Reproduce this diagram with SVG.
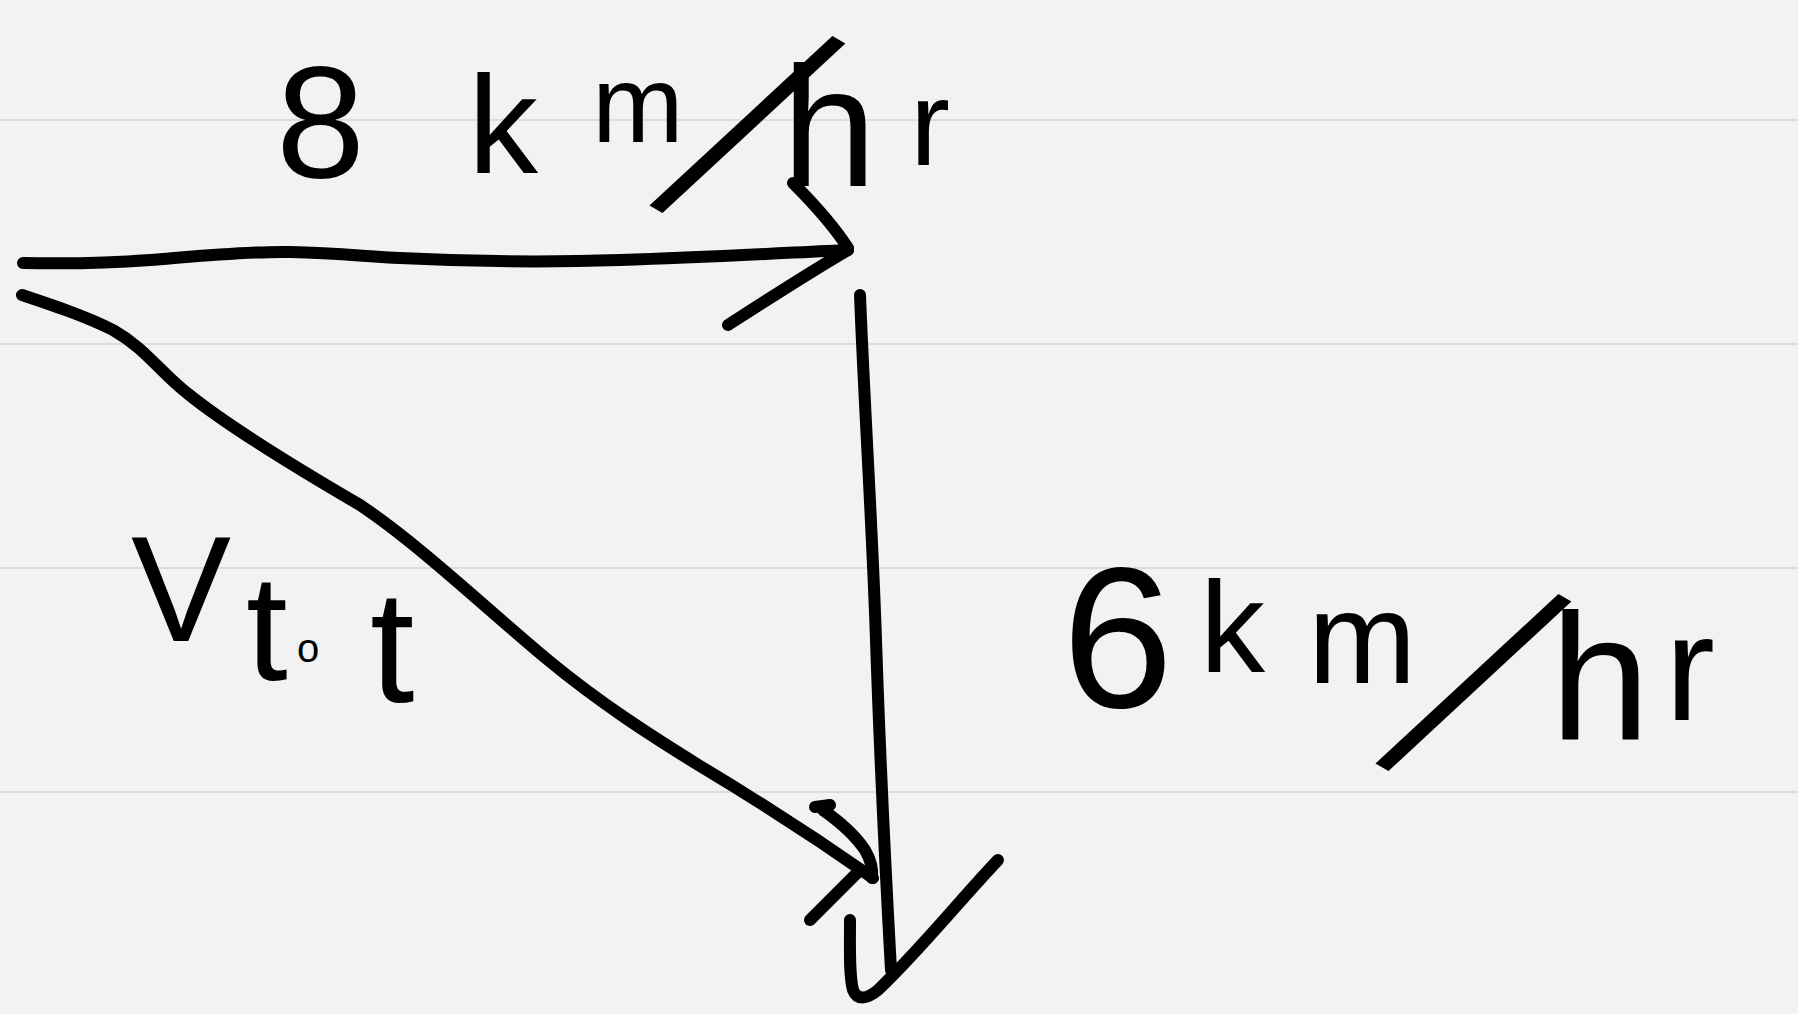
<svg xmlns="http://www.w3.org/2000/svg" width="1798" height="1014" viewBox="0 0 1798 1014">
<style>
.rule{stroke:#dcdcdc;stroke-width:2;fill:none}
.ink{stroke:#000;stroke-width:12;fill:none;stroke-linecap:round;stroke-linejoin:round}
.hand{font-family:"Liberation Sans",Arial,sans-serif;fill:#000}
.sl{font-family:"DejaVu Sans",sans-serif;font-weight:200}
</style>
<rect width="1798" height="1014" fill="#f2f2f2"/>
<g id="ruling">
<line class="rule" x1="0" y1="120" x2="1798" y2="120"/>
<line class="rule" x1="0" y1="344" x2="1798" y2="344"/>
<line class="rule" x1="0" y1="568" x2="1798" y2="568"/>
<line class="rule" x1="0" y1="792" x2="1798" y2="792"/>
</g>
<g id="connectors">
<path class="ink" d="M23,263 C70,264 110,263 150,260 C200,256 250,251 290,252 C340,253 370,257 400,258 C480,262 560,262 620,260 C720,257 800,252 848,250"/>
<path class="ink" d="M793,183 C815,205 835,228 848,248"/>
<path class="ink" d="M848,250 C810,272 770,298 728,325"/>
<path class="ink" d="M860,295 C864,400 872,520 876,640 C880,760 886,880 891,970"/>
<path class="ink" d="M850,920 C850,950 849,975 853,990 C857,1000 866,1000 878,990 C920,950 960,900 998,860"/>
<path class="ink" d="M22,295 C55,306 85,316 113,330 C145,348 160,372 187,393 C230,428 300,470 360,505 C420,545 490,612 548,660 C600,703 650,735 700,766 C770,808 830,848 873,878"/>
<path class="ink" d="M815,807 L830,805 M823,810 C840,822 855,835 865,850 C872,862 873,870 872,878"/>
<path class="ink" d="M810,920 L857,873"/>
</g>
<g id="label-8kmhr">
<text class="hand"><tspan x="276" y="177" font-size="160">8 </tspan><tspan x="468" y="173" font-size="140">k</tspan><tspan x="592" y="142" font-size="110">m</tspan><tspan class="sl" x="659" y="180" font-size="290" rotate="30">/</tspan><tspan x="782" y="186" font-size="170">h</tspan><tspan x="910" y="165" font-size="120">r</tspan></text>
</g>
<g id="label-vtot">
<text class="hand"><tspan x="131" y="641" font-size="150">V</tspan><tspan x="246" y="680" font-size="150">t</tspan><tspan x="297" y="662" font-size="40">o</tspan><tspan x="370" y="702" font-size="160">t</tspan></text>
</g>
<g id="label-6kmhr">
<text class="hand"><tspan x="1062" y="707" font-size="200">6 </tspan><tspan x="1200" y="672" font-size="130">k</tspan><tspan x="1308" y="683" font-size="130">m</tspan><tspan class="sl" x="1385" y="738" font-size="290" rotate="30">/</tspan><tspan x="1550" y="740" font-size="180">h</tspan><tspan x="1665" y="720" font-size="150">r</tspan></text>
</g>
</svg>
